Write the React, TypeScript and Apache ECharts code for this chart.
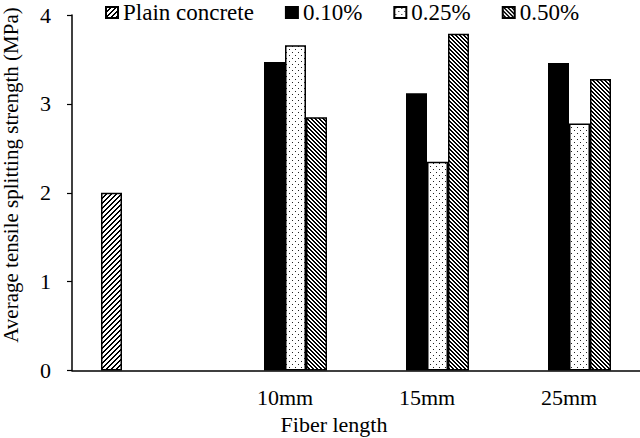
import { useEffect, useRef } from 'react';
import * as echarts from 'echarts';

const categories = ['', '10mm', '15mm', '25mm'];
const plainConcrete = [2.0, null, null, null];
const fiber010 = [null, 3.47, 3.12, 3.46];
const fiber025 = [null, 3.66, 2.35, 2.78];
const fiber050 = [null, 2.85, 3.79, 3.28];
const yTicks = [0, 1, 2, 3, 4];

const FONT = '"Liberation Serif", "Times New Roman", serif';

// 画一个小方块图案，用作柱子的填充
function makePattern(size: number, draw: (ctx: CanvasRenderingContext2D) => void) {
  const c = document.createElement('canvas');
  c.width = size;
  c.height = size;
  const ctx = c.getContext('2d')!;
  ctx.fillStyle = '#fff';
  ctx.fillRect(0, 0, size, size);
  ctx.fillStyle = '#000';
  draw(ctx);
  return { image: c, repeat: 'repeat', imageWidth: size, imageHeight: size } as any;
}

export default function App() {
  const chartRef = useRef<HTMLDivElement>(null);

  useEffect(() => {
    if (!chartRef.current) return;
    document.body.style.margin = '0';
    const chart = echarts.init(chartRef.current, null, { renderer: 'svg' });

    // 粗斜线 "/"
    const plainFill = makePattern(5, ctx => {
      for (let y = 0; y < 5; y++) {
        ctx.fillRect((4 - y + 5) % 5, y, 1, 1);
        ctx.fillRect((5 - y + 5) % 5, y, 1, 1);
      }
    });
    // 稀疏点
    const dotFill = makePattern(6, ctx => {
      ctx.fillStyle = '#222';
      ctx.fillRect(1, 1, 1, 1);
      ctx.fillRect(4, 4, 1, 1);
    });
    // 细斜线 "\"
    const hatchFill = makePattern(4, ctx => {
      for (let y = 0; y < 4; y++) {
        ctx.fillRect(y, y, 1, 1);
        ctx.fillRect((y + 1) % 4, y, 1, 1);
      }
    });

    const border = { borderColor: '#000', borderWidth: 1.5 };

    const option: echarts.EChartsOption = {
      animation: false,
      textStyle: { fontFamily: FONT, color: '#000' },
      legend: {
        left: 100,
        top: -4,
        itemWidth: 12,
        itemHeight: 11,
        itemGap: 31,
        icon: 'rect',
        textStyle: { fontFamily: FONT, fontSize: 23, color: '#000' },
        data: ['Plain concrete', '0.10%', '0.25%', '0.50%']
      },
      grid: { left: 72, right: 0, top: 15, bottom: 67.5 },
      xAxis: {
        type: 'category',
        data: categories,
        axisLine: { lineStyle: { color: '#000', width: 1.5 } },
        axisTick: { show: false },
        axisLabel: { interval: 0, margin: 16, fontSize: 22, fontFamily: FONT, color: '#000' }
      },
      yAxis: {
        type: 'value',
        min: yTicks[0],
        max: yTicks[yTicks.length - 1],
        interval: 1,
        splitLine: { show: false },
        axisLine: { show: true, lineStyle: { color: '#000', width: 1.5 } },
        axisTick: { show: true, length: 5, lineStyle: { color: '#000', width: 1.2 } },
        axisLabel: { margin: 21, fontSize: 22, fontFamily: FONT, color: '#000' }
      },
      graphic: [
        {
          type: 'text',
          x: 11,
          y: 175,
          rotation: Math.PI / 2,
          style: {
            text: 'Average tensile splitting strength (MPa)',
            fontSize: 21,
            fontFamily: FONT,
            fill: '#000',
            align: 'center',
            verticalAlign: 'middle'
          }
        },
        {
          type: 'text',
          x: 334,
          y: 424,
          style: {
            text: 'Fiber length',
            fontSize: 22,
            fontFamily: FONT,
            fill: '#000',
            align: 'center',
            verticalAlign: 'middle'
          }
        }
      ],
      series: [
        {
          name: 'Plain concrete',
          type: 'bar',
          data: plainConcrete,
          barWidth: 21,
          barGap: '0%',
          itemStyle: { color: plainFill, ...border }
        },
        {
          name: '0.10%',
          type: 'bar',
          data: fiber010,
          barWidth: 21,
          barGap: '0%',
          itemStyle: { color: '#000', ...border }
        },
        {
          name: '0.25%',
          type: 'bar',
          data: fiber025,
          barWidth: 21,
          barGap: '0%',
          itemStyle: { color: dotFill, ...border }
        },
        {
          name: '0.50%',
          type: 'bar',
          data: fiber050,
          barWidth: 21,
          barGap: '0%',
          itemStyle: { color: hatchFill, ...border }
        }
      ]
    };

    chart.setOption(option);
    return () => {
      chart.dispose();
    };
  }, []);

  return <div ref={chartRef} style={{ width: '640px', height: '438px' }} />;
}
